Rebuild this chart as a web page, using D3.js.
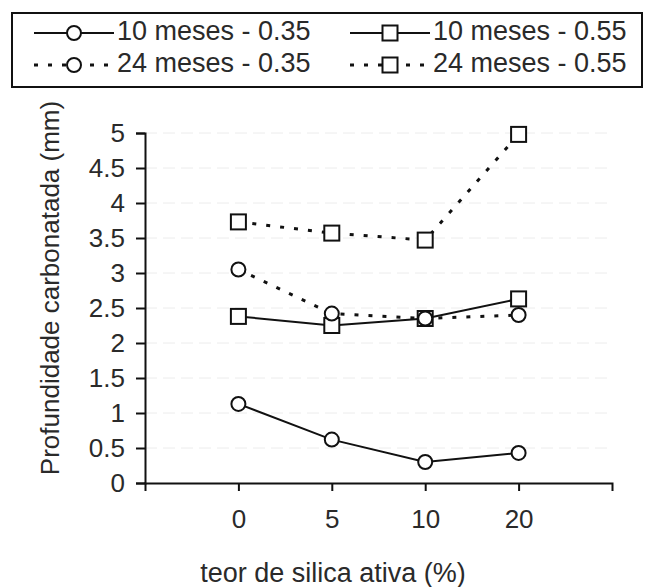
<!DOCTYPE html>
<html>
<head>
<meta charset="utf-8">
<script src="https://cdn.jsdelivr.net/npm/d3@7"></script>
<style>
  body { margin: 0; background: #fff; }
  svg { font-family: "Liberation Sans", Arial, sans-serif; }
</style>
</head>
<body>
<svg id="chart" width="645" height="587"></svg>
<script>
// teor de silica ativa (%)
var categories = ['0', '5', '10', '20'];
var yTicks = [0, 0.5, 1, 1.5, 2, 2.5, 3, 3.5, 4, 4.5, 5];

var m10_035 = [1.13, 0.62, 0.30, 0.43];
var m10_055 = [2.38, 2.25, 2.35, 2.63];
var m24_035 = [3.05, 2.42, 2.35, 2.40];
var m24_055 = [3.73, 3.57, 3.47, 4.98];

var seriesNames = ['10 meses - 0.35', '10 meses - 0.55', '24 meses - 0.35', '24 meses - 0.55'];

var series = [
  {name: seriesNames[0], values: m10_035, marker: 'circle', dashed: false},
  {name: seriesNames[1], values: m10_055, marker: 'square', dashed: false},
  {name: seriesNames[2], values: m24_035, marker: 'circle', dashed: true},
  {name: seriesNames[3], values: m24_055, marker: 'square', dashed: true}
];

var svg = d3.select('#chart');
var padding = {t: 133, r: 33, b: 104, l: 145};
var chartWidth = +svg.attr('width') - padding.l - padding.r;
var chartHeight = +svg.attr('height') - padding.t - padding.b;
var dotDash = '4,10';
var textColor = '#2a2a2a';

var chartG = svg.append('g')
  .attr('transform', 'translate(' + [padding.l, padding.t] + ')');

var xScale = d3.scalePoint()
  .domain(categories)
  .range([0, chartWidth])
  .padding(1);

var yScale = d3.scaleLinear()
  .domain([0, 5])
  .range([chartHeight, 0]);

// faint scan-like grid
chartG.selectAll('.grid')
  .data(yTicks.filter(d => d > 0))
  .enter().append('line')
  .attr('class', 'grid')
  .attr('x1', 0).attr('x2', chartWidth)
  .attr('y1', d => yScale(d)).attr('y2', d => yScale(d))
  .attr('stroke', '#ececec')
  .attr('stroke-dasharray', '12,6');

var yAxisG = chartG.append('g')
  .call(d3.axisLeft(yScale).tickValues(yTicks).tickSize(9).tickSizeOuter(9).tickPadding(11)
    .tickFormat(d3.format('')));

var xAxisG = chartG.append('g')
  .attr('transform', 'translate(0,' + chartHeight + ')')
  .call(d3.axisBottom(xScale).tickSize(8).tickSizeOuter(8).tickPadding(19));

[yAxisG, xAxisG].forEach(function(g) {
  g.selectAll('path, line').attr('stroke', '#111').attr('stroke-width', 2);
  g.selectAll('text').attr('fill', textColor).style('font-size', '26px');
});

var line = d3.line()
  .x((d, i) => xScale(categories[i]))
  .y(d => yScale(d));

function drawMarker(g, type) {
  if (type === 'circle') {
    g.append('circle').attr('r', 7);
  } else {
    g.append('rect').attr('x', -7.5).attr('y', -7.5).attr('width', 15).attr('height', 15);
  }
  g.selectAll('circle, rect')
    .attr('fill', '#fff')
    .attr('stroke', '#111')
    .attr('stroke-width', 2);
}

series.forEach(function(s) {
  chartG.append('path')
    .datum(s.values)
    .attr('d', line)
    .attr('fill', 'none')
    .attr('stroke', '#111')
    .attr('stroke-width', s.dashed ? 3 : 2)
    .attr('stroke-dasharray', s.dashed ? dotDash : null);
});

series.forEach(function(s) {
  chartG.selectAll('.pt')
    .data(s.values)
    .enter().append('g')
    .attr('transform', (d, i) => 'translate(' + [xScale(categories[i]), yScale(d)] + ')')
    .each(function() { drawMarker(d3.select(this), s.marker); });
});

// axis titles
svg.append('text')
  .attr('transform', 'translate(52,288) rotate(-90)')
  .attr('text-anchor', 'middle')
  .attr('dominant-baseline', 'middle')
  .style('font-size', '26px')
  .attr('fill', textColor)
  .text('Profundidade carbonatada (mm)');

svg.append('text')
  .attr('x', 333)
  .attr('y', 582)
  .attr('text-anchor', 'middle')
  .style('font-size', '27px')
  .attr('fill', textColor)
  .text('teor de silica ativa (%)');

// legend
var legendG = svg.append('g');
legendG.append('rect')
  .attr('x', 12).attr('y', 13)
  .attr('width', 630).attr('height', 74)
  .attr('fill', 'none')
  .attr('stroke', '#111')
  .attr('stroke-width', 2);

var legendPos = [[34, 33], [350, 33], [34, 65], [350, 65]];
series.forEach(function(s, i) {
  var g = legendG.append('g')
    .attr('transform', 'translate(' + legendPos[i] + ')');
  g.append('line')
    .attr('x1', 0).attr('x2', 80)
    .attr('stroke', '#111')
    .attr('stroke-width', s.dashed ? 3 : 2)
    .attr('stroke-dasharray', s.dashed ? dotDash : null);
  drawMarker(g.append('g').attr('transform', 'translate(40,0)'), s.marker);
  g.append('text')
    .attr('x', 83)
    .attr('dominant-baseline', 'middle')
    .style('font-size', '27px')
    .attr('fill', textColor)
    .text(s.name);
});
</script>
</body>
</html>
